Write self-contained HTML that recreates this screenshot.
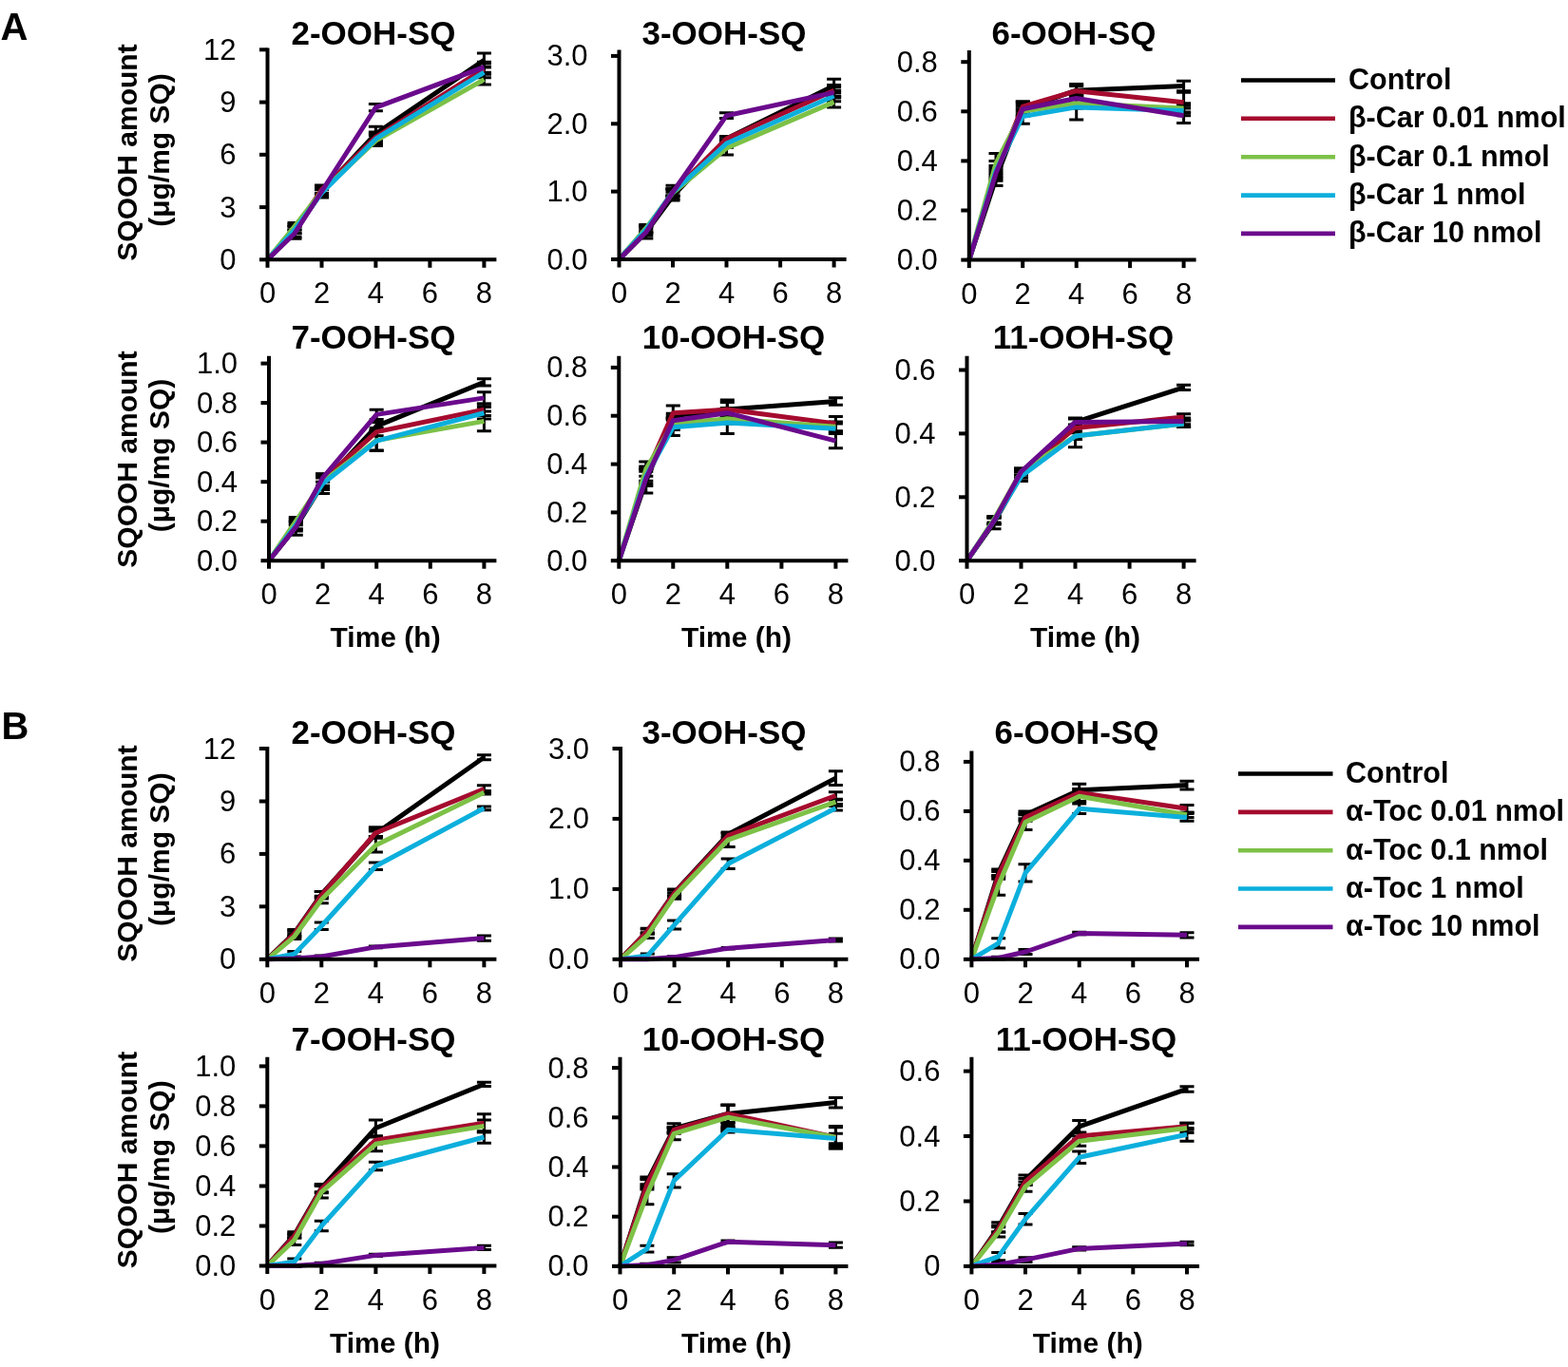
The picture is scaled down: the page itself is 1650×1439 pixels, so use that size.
<!DOCTYPE html>
<html><head><meta charset="utf-8"><title>SQOOH</title>
<style>html,body{margin:0;padding:0;background:#fff;}svg{display:block;}</style></head>
<body><svg width="1650" height="1439" viewBox="0 0 1650 1439" font-family='"Liberation Sans", Arial, Helvetica, sans-serif' fill="#000">
<rect width="1650" height="1439" fill="#fff"/>
<path d="M310.0 251.2V236.5M302.5 251.2H317.5M302.5 236.5H317.5" stroke="#000" stroke-width="3" fill="none"/>
<path d="M338.5 207.9V195.0M331.0 207.9H346.0M331.0 195.0H346.0" stroke="#000" stroke-width="3" fill="none"/>
<path d="M395.4 148.1V133.3M387.9 148.1H402.9M387.9 133.3H402.9" stroke="#000" stroke-width="3" fill="none"/>
<path d="M509.4 70.7V56.0M501.9 70.7H516.9M501.9 56.0H516.9" stroke="#000" stroke-width="3" fill="none"/>
<path d="M310.0 245.7V238.3M302.5 245.7H317.5M302.5 238.3H317.5" stroke="#000" stroke-width="3" fill="none"/>
<path d="M338.5 203.3V195.9M331.0 203.3H346.0M331.0 195.9H346.0" stroke="#000" stroke-width="3" fill="none"/>
<path d="M395.4 149.9V138.9M387.9 149.9H402.9M387.9 138.9H402.9" stroke="#000" stroke-width="3" fill="none"/>
<path d="M509.4 78.1V67.0M501.9 78.1H516.9M501.9 67.0H516.9" stroke="#000" stroke-width="3" fill="none"/>
<path d="M310.0 242.0V234.6M302.5 242.0H317.5M302.5 234.6H317.5" stroke="#000" stroke-width="3" fill="none"/>
<path d="M338.5 205.2V197.8M331.0 205.2H346.0M331.0 197.8H346.0" stroke="#000" stroke-width="3" fill="none"/>
<path d="M395.4 153.6V142.5M387.9 153.6H402.9M387.9 142.5H402.9" stroke="#000" stroke-width="3" fill="none"/>
<path d="M509.4 89.1V78.1M501.9 89.1H516.9M501.9 78.1H516.9" stroke="#000" stroke-width="3" fill="none"/>
<path d="M310.0 245.7V238.3M302.5 245.7H317.5M302.5 238.3H317.5" stroke="#000" stroke-width="3" fill="none"/>
<path d="M338.5 207.0V199.6M331.0 207.0H346.0M331.0 199.6H346.0" stroke="#000" stroke-width="3" fill="none"/>
<path d="M395.4 151.8V140.7M387.9 151.8H402.9M387.9 140.7H402.9" stroke="#000" stroke-width="3" fill="none"/>
<path d="M509.4 81.8V70.7M501.9 81.8H516.9M501.9 70.7H516.9" stroke="#000" stroke-width="3" fill="none"/>
<path d="M310.0 249.4V242.0M302.5 249.4H317.5M302.5 242.0H317.5" stroke="#000" stroke-width="3" fill="none"/>
<path d="M338.5 205.2V197.8M331.0 205.2H346.0M331.0 197.8H346.0" stroke="#000" stroke-width="3" fill="none"/>
<path d="M395.4 116.8V109.4M387.9 116.8H402.9M387.9 109.4H402.9" stroke="#000" stroke-width="3" fill="none"/>
<path d="M509.4 76.2V65.2M501.9 76.2H516.9M501.9 65.2H516.9" stroke="#000" stroke-width="3" fill="none"/>
<polyline points="281.5,273.3 310.0,243.8 338.5,201.5 395.4,140.7 509.4,63.3" stroke="#000000" stroke-width="5" fill="none" stroke-linejoin="round"/>
<polyline points="281.5,273.3 310.0,242.0 338.5,199.6 395.4,144.4 509.4,72.6" stroke="#A50B2E" stroke-width="5" fill="none" stroke-linejoin="round"/>
<polyline points="281.5,273.3 310.0,238.3 338.5,201.5 395.4,148.1 509.4,83.6" stroke="#7DC147" stroke-width="5" fill="none" stroke-linejoin="round"/>
<polyline points="281.5,273.3 310.0,242.0 338.5,203.3 395.4,146.2 509.4,76.2" stroke="#0CAFDC" stroke-width="5" fill="none" stroke-linejoin="round"/>
<polyline points="281.5,273.3 310.0,245.7 338.5,201.5 395.4,113.1 509.4,70.7" stroke="#6A0A8C" stroke-width="5" fill="none" stroke-linejoin="round"/>
<path d="M281.5 50.5V275.3M279.5 273.3H522.4" stroke="#000" stroke-width="4" fill="none"/>
<path d="M273.0 273.3H281.5" stroke="#000" stroke-width="4"/>
<text x="248.5" y="283.8" text-anchor="end" font-size="31">0</text>
<path d="M273.0 218.1H281.5" stroke="#000" stroke-width="4"/>
<text x="248.5" y="228.6" text-anchor="end" font-size="31">3</text>
<path d="M273.0 162.8H281.5" stroke="#000" stroke-width="4"/>
<text x="248.5" y="173.3" text-anchor="end" font-size="31">6</text>
<path d="M273.0 107.6H281.5" stroke="#000" stroke-width="4"/>
<text x="248.5" y="118.1" text-anchor="end" font-size="31">9</text>
<path d="M273.0 52.3H281.5" stroke="#000" stroke-width="4"/>
<text x="248.5" y="62.8" text-anchor="end" font-size="31">12</text>
<path d="M281.5 273.3V281.8" stroke="#000" stroke-width="4"/>
<text x="281.5" y="319.3" text-anchor="middle" font-size="31">0</text>
<path d="M338.5 273.3V281.8" stroke="#000" stroke-width="4"/>
<text x="338.5" y="319.3" text-anchor="middle" font-size="31">2</text>
<path d="M395.4 273.3V281.8" stroke="#000" stroke-width="4"/>
<text x="395.4" y="319.3" text-anchor="middle" font-size="31">4</text>
<path d="M452.4 273.3V281.8" stroke="#000" stroke-width="4"/>
<text x="452.4" y="319.3" text-anchor="middle" font-size="31">6</text>
<path d="M509.4 273.3V281.8" stroke="#000" stroke-width="4"/>
<text x="509.4" y="319.3" text-anchor="middle" font-size="31">8</text>
<text x="393" y="47" text-anchor="middle" font-size="35" font-weight="bold">2-OOH-SQ</text>
<path d="M679.8 250.9V238.0M672.3 250.9H687.3M672.3 238.0H687.3" stroke="#000" stroke-width="3" fill="none"/>
<path d="M708.0 210.9V202.3M700.5 210.9H715.5M700.5 202.3H715.5" stroke="#000" stroke-width="3" fill="none"/>
<path d="M764.5 148.1V143.8M757.0 148.1H772.0M757.0 143.8H772.0" stroke="#000" stroke-width="3" fill="none"/>
<path d="M877.6 97.4V83.2M870.1 97.4H885.1M870.1 83.2H885.1" stroke="#000" stroke-width="3" fill="none"/>
<path d="M679.8 245.2V238.0M672.3 245.2H687.3M672.3 238.0H687.3" stroke="#000" stroke-width="3" fill="none"/>
<path d="M708.0 209.5V195.2M700.5 209.5H715.5M700.5 195.2H715.5" stroke="#000" stroke-width="3" fill="none"/>
<path d="M764.5 148.1V143.8M757.0 148.1H772.0M757.0 143.8H772.0" stroke="#000" stroke-width="3" fill="none"/>
<path d="M877.6 101.0V89.6M870.1 101.0H885.1M870.1 89.6H885.1" stroke="#000" stroke-width="3" fill="none"/>
<path d="M679.8 243.7V236.6M672.3 243.7H687.3M672.3 236.6H687.3" stroke="#000" stroke-width="3" fill="none"/>
<path d="M708.0 206.6V199.5M700.5 206.6H715.5M700.5 199.5H715.5" stroke="#000" stroke-width="3" fill="none"/>
<path d="M764.5 163.1V148.8M757.0 163.1H772.0M757.0 148.8H772.0" stroke="#000" stroke-width="3" fill="none"/>
<path d="M877.6 113.1V101.7M870.1 113.1H885.1M870.1 101.7H885.1" stroke="#000" stroke-width="3" fill="none"/>
<path d="M679.8 245.2V238.0M672.3 245.2H687.3M672.3 238.0H687.3" stroke="#000" stroke-width="3" fill="none"/>
<path d="M708.0 205.9V198.8M700.5 205.9H715.5M700.5 198.8H715.5" stroke="#000" stroke-width="3" fill="none"/>
<path d="M764.5 155.2V146.7M757.0 155.2H772.0M757.0 146.7H772.0" stroke="#000" stroke-width="3" fill="none"/>
<path d="M877.6 106.7V95.3M870.1 106.7H885.1M870.1 95.3H885.1" stroke="#000" stroke-width="3" fill="none"/>
<path d="M679.8 248.0V240.9M672.3 248.0H687.3M672.3 240.9H687.3" stroke="#000" stroke-width="3" fill="none"/>
<path d="M708.0 205.9V198.8M700.5 205.9H715.5M700.5 198.8H715.5" stroke="#000" stroke-width="3" fill="none"/>
<path d="M764.5 124.6V118.8M757.0 124.6H772.0M757.0 118.8H772.0" stroke="#000" stroke-width="3" fill="none"/>
<path d="M877.6 103.1V91.7M870.1 103.1H885.1M870.1 91.7H885.1" stroke="#000" stroke-width="3" fill="none"/>
<polyline points="651.5,273.0 679.8,244.5 708.0,206.6 764.5,146.0 877.6,90.3" stroke="#000000" stroke-width="5" fill="none" stroke-linejoin="round"/>
<polyline points="651.5,273.0 679.8,241.6 708.0,202.3 764.5,146.0 877.6,95.3" stroke="#A50B2E" stroke-width="5" fill="none" stroke-linejoin="round"/>
<polyline points="651.5,273.0 679.8,240.2 708.0,203.1 764.5,156.0 877.6,107.4" stroke="#7DC147" stroke-width="5" fill="none" stroke-linejoin="round"/>
<polyline points="651.5,273.0 679.8,241.6 708.0,202.3 764.5,151.0 877.6,101.0" stroke="#0CAFDC" stroke-width="5" fill="none" stroke-linejoin="round"/>
<polyline points="651.5,273.0 679.8,244.5 708.0,202.3 764.5,121.7 877.6,97.4" stroke="#6A0A8C" stroke-width="5" fill="none" stroke-linejoin="round"/>
<path d="M651.5 52.5V275.0M649.5 273.0H890.6" stroke="#000" stroke-width="4" fill="none"/>
<path d="M643.0 273.0H651.5" stroke="#000" stroke-width="4"/>
<text x="618.5" y="283.5" text-anchor="end" font-size="31">0.0</text>
<path d="M643.0 201.6H651.5" stroke="#000" stroke-width="4"/>
<text x="618.5" y="212.1" text-anchor="end" font-size="31">1.0</text>
<path d="M643.0 130.3H651.5" stroke="#000" stroke-width="4"/>
<text x="618.5" y="140.8" text-anchor="end" font-size="31">2.0</text>
<path d="M643.0 58.9H651.5" stroke="#000" stroke-width="4"/>
<text x="618.5" y="69.4" text-anchor="end" font-size="31">3.0</text>
<path d="M651.5 273.0V281.5" stroke="#000" stroke-width="4"/>
<text x="651.5" y="319.0" text-anchor="middle" font-size="31">0</text>
<path d="M708.0 273.0V281.5" stroke="#000" stroke-width="4"/>
<text x="708.0" y="319.0" text-anchor="middle" font-size="31">2</text>
<path d="M764.5 273.0V281.5" stroke="#000" stroke-width="4"/>
<text x="764.5" y="319.0" text-anchor="middle" font-size="31">4</text>
<path d="M821.1 273.0V281.5" stroke="#000" stroke-width="4"/>
<text x="821.1" y="319.0" text-anchor="middle" font-size="31">6</text>
<path d="M877.6 273.0V281.5" stroke="#000" stroke-width="4"/>
<text x="877.6" y="319.0" text-anchor="middle" font-size="31">8</text>
<text x="762" y="47" text-anchor="middle" font-size="35" font-weight="bold">3-OOH-SQ</text>
<path d="M1048.0 195.5V179.8M1040.5 195.5H1055.5M1040.5 179.8H1055.5" stroke="#000" stroke-width="3" fill="none"/>
<path d="M1076.2 122.5V106.9M1068.8 122.5H1083.8M1068.8 106.9H1083.8" stroke="#000" stroke-width="3" fill="none"/>
<path d="M1132.7 101.7V88.6M1125.2 101.7H1140.2M1125.2 88.6H1140.2" stroke="#000" stroke-width="3" fill="none"/>
<path d="M1245.6 95.7V85.3M1238.1 95.7H1253.1M1238.1 85.3H1253.1" stroke="#000" stroke-width="3" fill="none"/>
<path d="M1048.0 190.2V169.4M1040.5 190.2H1055.5M1040.5 169.4H1055.5" stroke="#000" stroke-width="3" fill="none"/>
<path d="M1076.2 117.3V106.9M1068.8 117.3H1083.8M1068.8 106.9H1083.8" stroke="#000" stroke-width="3" fill="none"/>
<path d="M1132.7 100.9V90.5M1125.2 100.9H1140.2M1125.2 90.5H1140.2" stroke="#000" stroke-width="3" fill="none"/>
<path d="M1245.6 118.1V97.2M1238.1 118.1H1253.1M1238.1 97.2H1253.1" stroke="#000" stroke-width="3" fill="none"/>
<path d="M1048.0 182.4V161.6M1040.5 182.4H1055.5M1040.5 161.6H1055.5" stroke="#000" stroke-width="3" fill="none"/>
<path d="M1076.2 122.5V112.1M1068.8 122.5H1083.8M1068.8 112.1H1083.8" stroke="#000" stroke-width="3" fill="none"/>
<path d="M1132.7 113.9V103.5M1125.2 113.9H1140.2M1125.2 103.5H1140.2" stroke="#000" stroke-width="3" fill="none"/>
<path d="M1245.6 119.1V108.7M1238.1 119.1H1253.1M1238.1 108.7H1253.1" stroke="#000" stroke-width="3" fill="none"/>
<path d="M1048.0 185.0V174.6M1040.5 185.0H1055.5M1040.5 174.6H1055.5" stroke="#000" stroke-width="3" fill="none"/>
<path d="M1076.2 130.3V114.7M1068.8 130.3H1083.8M1068.8 114.7H1083.8" stroke="#000" stroke-width="3" fill="none"/>
<path d="M1132.7 125.9V99.8M1125.2 125.9H1140.2M1125.2 99.8H1140.2" stroke="#000" stroke-width="3" fill="none"/>
<path d="M1245.6 121.7V111.3M1238.1 121.7H1253.1M1238.1 111.3H1253.1" stroke="#000" stroke-width="3" fill="none"/>
<path d="M1048.0 187.6V177.2M1040.5 187.6H1055.5M1040.5 177.2H1055.5" stroke="#000" stroke-width="3" fill="none"/>
<path d="M1076.2 119.9V109.5M1068.8 119.9H1083.8M1068.8 109.5H1083.8" stroke="#000" stroke-width="3" fill="none"/>
<path d="M1132.7 108.7V98.3M1125.2 108.7H1140.2M1125.2 98.3H1140.2" stroke="#000" stroke-width="3" fill="none"/>
<path d="M1245.6 129.5V113.9M1238.1 129.5H1253.1M1238.1 113.9H1253.1" stroke="#000" stroke-width="3" fill="none"/>
<polyline points="1019.8,273.6 1048.0,187.6 1076.2,114.7 1132.7,95.2 1245.6,90.5" stroke="#000000" stroke-width="5" fill="none" stroke-linejoin="round"/>
<polyline points="1019.8,273.6 1048.0,179.8 1076.2,112.1 1132.7,95.7 1245.6,107.7" stroke="#A50B2E" stroke-width="5" fill="none" stroke-linejoin="round"/>
<polyline points="1019.8,273.6 1048.0,172.0 1076.2,117.3 1132.7,108.7 1245.6,113.9" stroke="#7DC147" stroke-width="5" fill="none" stroke-linejoin="round"/>
<polyline points="1019.8,273.6 1048.0,179.8 1076.2,122.5 1132.7,112.9 1245.6,116.5" stroke="#0CAFDC" stroke-width="5" fill="none" stroke-linejoin="round"/>
<polyline points="1019.8,273.6 1048.0,182.4 1076.2,114.7 1132.7,103.5 1245.6,121.7" stroke="#6A0A8C" stroke-width="5" fill="none" stroke-linejoin="round"/>
<path d="M1019.8 53.0V275.6M1017.8 273.6H1258.6" stroke="#000" stroke-width="4" fill="none"/>
<path d="M1011.3 273.6H1019.8" stroke="#000" stroke-width="4"/>
<text x="986.8" y="284.1" text-anchor="end" font-size="31">0.0</text>
<path d="M1011.3 221.5H1019.8" stroke="#000" stroke-width="4"/>
<text x="986.8" y="232.0" text-anchor="end" font-size="31">0.2</text>
<path d="M1011.3 169.4H1019.8" stroke="#000" stroke-width="4"/>
<text x="986.8" y="179.9" text-anchor="end" font-size="31">0.4</text>
<path d="M1011.3 117.3H1019.8" stroke="#000" stroke-width="4"/>
<text x="986.8" y="127.8" text-anchor="end" font-size="31">0.6</text>
<path d="M1011.3 65.2H1019.8" stroke="#000" stroke-width="4"/>
<text x="986.8" y="75.7" text-anchor="end" font-size="31">0.8</text>
<path d="M1019.8 273.6V282.1" stroke="#000" stroke-width="4"/>
<text x="1019.8" y="319.6" text-anchor="middle" font-size="31">0</text>
<path d="M1076.2 273.6V282.1" stroke="#000" stroke-width="4"/>
<text x="1076.2" y="319.6" text-anchor="middle" font-size="31">2</text>
<path d="M1132.7 273.6V282.1" stroke="#000" stroke-width="4"/>
<text x="1132.7" y="319.6" text-anchor="middle" font-size="31">4</text>
<path d="M1189.1 273.6V282.1" stroke="#000" stroke-width="4"/>
<text x="1189.1" y="319.6" text-anchor="middle" font-size="31">6</text>
<path d="M1245.6 273.6V282.1" stroke="#000" stroke-width="4"/>
<text x="1245.6" y="319.6" text-anchor="middle" font-size="31">8</text>
<text x="1130" y="47" text-anchor="middle" font-size="35" font-weight="bold">6-OOH-SQ</text>
<path d="M311.3 563.2V546.6M303.8 563.2H318.8M303.8 546.6H318.8" stroke="#000" stroke-width="3" fill="none"/>
<path d="M339.6 519.6V498.9M332.1 519.6H347.1M332.1 498.9H347.1" stroke="#000" stroke-width="3" fill="none"/>
<path d="M396.2 452.8V444.5M388.7 452.8H403.7M388.7 444.5H403.7" stroke="#000" stroke-width="3" fill="none"/>
<path d="M509.4 405.9V398.8M501.9 405.9H516.9M501.9 398.8H516.9" stroke="#000" stroke-width="3" fill="none"/>
<path d="M311.3 557.0V548.7M303.8 557.0H318.8M303.8 548.7H318.8" stroke="#000" stroke-width="3" fill="none"/>
<path d="M339.6 511.3V498.9M332.1 511.3H347.1M332.1 498.9H347.1" stroke="#000" stroke-width="3" fill="none"/>
<path d="M396.2 458.8V450.5M388.7 458.8H403.7M388.7 450.5H403.7" stroke="#000" stroke-width="3" fill="none"/>
<path d="M509.4 437.4V425.0M501.9 437.4H516.9M501.9 425.0H516.9" stroke="#000" stroke-width="3" fill="none"/>
<path d="M311.3 552.8V544.5M303.8 552.8H318.8M303.8 544.5H318.8" stroke="#000" stroke-width="3" fill="none"/>
<path d="M339.6 513.4V500.9M332.1 513.4H347.1M332.1 500.9H347.1" stroke="#000" stroke-width="3" fill="none"/>
<path d="M396.2 473.9V453.2M388.7 473.9H403.7M388.7 453.2H403.7" stroke="#000" stroke-width="3" fill="none"/>
<path d="M509.4 453.8V433.0M501.9 453.8H516.9M501.9 433.0H516.9" stroke="#000" stroke-width="3" fill="none"/>
<path d="M311.3 557.0V548.7M303.8 557.0H318.8M303.8 548.7H318.8" stroke="#000" stroke-width="3" fill="none"/>
<path d="M339.6 515.5V503.0M332.1 515.5H347.1M332.1 503.0H347.1" stroke="#000" stroke-width="3" fill="none"/>
<path d="M396.2 474.6V453.8M388.7 474.6H403.7M388.7 453.8H403.7" stroke="#000" stroke-width="3" fill="none"/>
<path d="M509.4 440.9V428.5M501.9 440.9H516.9M501.9 428.5H516.9" stroke="#000" stroke-width="3" fill="none"/>
<path d="M311.3 559.1V550.8M303.8 559.1H318.8M303.8 550.8H318.8" stroke="#000" stroke-width="3" fill="none"/>
<path d="M339.6 507.2V498.9M332.1 507.2H347.1M332.1 498.9H347.1" stroke="#000" stroke-width="3" fill="none"/>
<path d="M396.2 441.6V431.2M388.7 441.6H403.7M388.7 431.2H403.7" stroke="#000" stroke-width="3" fill="none"/>
<path d="M509.4 425.2V412.7M501.9 425.2H516.9M501.9 412.7H516.9" stroke="#000" stroke-width="3" fill="none"/>
<polyline points="283.0,590.2 311.3,554.9 339.6,509.2 396.2,448.6 509.4,402.3" stroke="#000000" stroke-width="5" fill="none" stroke-linejoin="round"/>
<polyline points="283.0,590.2 311.3,552.8 339.6,505.1 396.2,454.6 509.4,431.2" stroke="#A50B2E" stroke-width="5" fill="none" stroke-linejoin="round"/>
<polyline points="283.0,590.2 311.3,548.7 339.6,507.2 396.2,463.6 509.4,443.4" stroke="#7DC147" stroke-width="5" fill="none" stroke-linejoin="round"/>
<polyline points="283.0,590.2 311.3,552.8 339.6,509.2 396.2,464.2 509.4,434.7" stroke="#0CAFDC" stroke-width="5" fill="none" stroke-linejoin="round"/>
<polyline points="283.0,590.2 311.3,554.9 339.6,503.0 396.2,436.4 509.4,418.9" stroke="#6A0A8C" stroke-width="5" fill="none" stroke-linejoin="round"/>
<path d="M283.0 374.8V592.2M281.0 590.2H522.4" stroke="#000" stroke-width="4" fill="none"/>
<path d="M274.5 590.2H283.0" stroke="#000" stroke-width="4"/>
<text x="250.0" y="600.7" text-anchor="end" font-size="31">0.0</text>
<path d="M274.5 548.7H283.0" stroke="#000" stroke-width="4"/>
<text x="250.0" y="559.2" text-anchor="end" font-size="31">0.2</text>
<path d="M274.5 507.2H283.0" stroke="#000" stroke-width="4"/>
<text x="250.0" y="517.7" text-anchor="end" font-size="31">0.4</text>
<path d="M274.5 465.6H283.0" stroke="#000" stroke-width="4"/>
<text x="250.0" y="476.1" text-anchor="end" font-size="31">0.6</text>
<path d="M274.5 424.1H283.0" stroke="#000" stroke-width="4"/>
<text x="250.0" y="434.6" text-anchor="end" font-size="31">0.8</text>
<path d="M274.5 382.6H283.0" stroke="#000" stroke-width="4"/>
<text x="250.0" y="393.1" text-anchor="end" font-size="31">1.0</text>
<path d="M283.0 590.2V598.7" stroke="#000" stroke-width="4"/>
<text x="283.0" y="636.2" text-anchor="middle" font-size="31">0</text>
<path d="M339.6 590.2V598.7" stroke="#000" stroke-width="4"/>
<text x="339.6" y="636.2" text-anchor="middle" font-size="31">2</text>
<path d="M396.2 590.2V598.7" stroke="#000" stroke-width="4"/>
<text x="396.2" y="636.2" text-anchor="middle" font-size="31">4</text>
<path d="M452.8 590.2V598.7" stroke="#000" stroke-width="4"/>
<text x="452.8" y="636.2" text-anchor="middle" font-size="31">6</text>
<path d="M509.4 590.2V598.7" stroke="#000" stroke-width="4"/>
<text x="509.4" y="636.2" text-anchor="middle" font-size="31">8</text>
<text x="393" y="367" text-anchor="middle" font-size="35" font-weight="bold">7-OOH-SQ</text>
<path d="M679.8 519.0V493.6M672.3 519.0H687.3M672.3 493.6H687.3" stroke="#000" stroke-width="3" fill="none"/>
<path d="M708.3 440.3V435.2M700.8 440.3H715.8M700.8 435.2H715.8" stroke="#000" stroke-width="3" fill="none"/>
<path d="M765.3 441.3V421.0M757.8 441.3H772.8M757.8 421.0H772.8" stroke="#000" stroke-width="3" fill="none"/>
<path d="M879.4 426.3V418.7M871.9 426.3H886.9M871.9 418.7H886.9" stroke="#000" stroke-width="3" fill="none"/>
<path d="M679.8 506.3V491.1M672.3 506.3H687.3M672.3 491.1H687.3" stroke="#000" stroke-width="3" fill="none"/>
<path d="M708.3 442.3V427.1M700.8 442.3H715.8M700.8 427.1H715.8" stroke="#000" stroke-width="3" fill="none"/>
<path d="M765.3 438.7V423.5M757.8 438.7H772.8M757.8 423.5H772.8" stroke="#000" stroke-width="3" fill="none"/>
<path d="M879.4 453.7V438.5M871.9 453.7H886.9M871.9 438.5H886.9" stroke="#000" stroke-width="3" fill="none"/>
<path d="M679.8 501.3V486.0M672.3 501.3H687.3M672.3 486.0H687.3" stroke="#000" stroke-width="3" fill="none"/>
<path d="M708.3 452.5V439.8M700.8 452.5H715.8M700.8 439.8H715.8" stroke="#000" stroke-width="3" fill="none"/>
<path d="M765.3 445.9V435.7M757.8 445.9H772.8M757.8 435.7H772.8" stroke="#000" stroke-width="3" fill="none"/>
<path d="M879.4 454.2V444.1M871.9 454.2H886.9M871.9 444.1H886.9" stroke="#000" stroke-width="3" fill="none"/>
<path d="M679.8 508.9V493.6M672.3 508.9H687.3M672.3 493.6H687.3" stroke="#000" stroke-width="3" fill="none"/>
<path d="M708.3 458.6V440.8M700.8 458.6H715.8M700.8 440.8H715.8" stroke="#000" stroke-width="3" fill="none"/>
<path d="M765.3 456.5V433.7M757.8 456.5H772.8M757.8 433.7H772.8" stroke="#000" stroke-width="3" fill="none"/>
<path d="M879.4 456.3V446.1M871.9 456.3H886.9M871.9 446.1H886.9" stroke="#000" stroke-width="3" fill="none"/>
<path d="M679.8 511.4V496.2M672.3 511.4H687.3M672.3 496.2H687.3" stroke="#000" stroke-width="3" fill="none"/>
<path d="M708.3 447.9V437.7M700.8 447.9H715.8M700.8 437.7H715.8" stroke="#000" stroke-width="3" fill="none"/>
<path d="M765.3 439.8V429.6M757.8 439.8H772.8M757.8 429.6H772.8" stroke="#000" stroke-width="3" fill="none"/>
<path d="M879.4 471.8V456.5M871.9 471.8H886.9M871.9 456.5H886.9" stroke="#000" stroke-width="3" fill="none"/>
<polyline points="651.3,590.2 679.8,506.3 708.3,437.7 765.3,431.1 879.4,422.5" stroke="#000000" stroke-width="5" fill="none" stroke-linejoin="round"/>
<polyline points="651.3,590.2 679.8,498.7 708.3,434.7 765.3,431.1 879.4,446.1" stroke="#A50B2E" stroke-width="5" fill="none" stroke-linejoin="round"/>
<polyline points="651.3,590.2 679.8,493.6 708.3,446.1 765.3,440.8 879.4,449.2" stroke="#7DC147" stroke-width="5" fill="none" stroke-linejoin="round"/>
<polyline points="651.3,590.2 679.8,501.3 708.3,449.7 765.3,445.1 879.4,451.2" stroke="#0CAFDC" stroke-width="5" fill="none" stroke-linejoin="round"/>
<polyline points="651.3,590.2 679.8,503.8 708.3,442.8 765.3,434.7 879.4,464.2" stroke="#6A0A8C" stroke-width="5" fill="none" stroke-linejoin="round"/>
<path d="M651.3 374.8V592.2M649.3 590.2H892.4" stroke="#000" stroke-width="4" fill="none"/>
<path d="M642.8 590.2H651.3" stroke="#000" stroke-width="4"/>
<text x="618.3" y="600.7" text-anchor="end" font-size="31">0.0</text>
<path d="M642.8 539.4H651.3" stroke="#000" stroke-width="4"/>
<text x="618.3" y="549.9" text-anchor="end" font-size="31">0.2</text>
<path d="M642.8 488.6H651.3" stroke="#000" stroke-width="4"/>
<text x="618.3" y="499.1" text-anchor="end" font-size="31">0.4</text>
<path d="M642.8 437.7H651.3" stroke="#000" stroke-width="4"/>
<text x="618.3" y="448.2" text-anchor="end" font-size="31">0.6</text>
<path d="M642.8 386.9H651.3" stroke="#000" stroke-width="4"/>
<text x="618.3" y="397.4" text-anchor="end" font-size="31">0.8</text>
<path d="M651.3 590.2V598.7" stroke="#000" stroke-width="4"/>
<text x="651.3" y="636.2" text-anchor="middle" font-size="31">0</text>
<path d="M708.3 590.2V598.7" stroke="#000" stroke-width="4"/>
<text x="708.3" y="636.2" text-anchor="middle" font-size="31">2</text>
<path d="M765.3 590.2V598.7" stroke="#000" stroke-width="4"/>
<text x="765.3" y="636.2" text-anchor="middle" font-size="31">4</text>
<path d="M822.4 590.2V598.7" stroke="#000" stroke-width="4"/>
<text x="822.4" y="636.2" text-anchor="middle" font-size="31">6</text>
<path d="M879.4 590.2V598.7" stroke="#000" stroke-width="4"/>
<text x="879.4" y="636.2" text-anchor="middle" font-size="31">8</text>
<text x="772" y="367" text-anchor="middle" font-size="35" font-weight="bold">10-OOH-SQ</text>
<path d="M1046.0 556.8V543.4M1038.5 556.8H1053.5M1038.5 543.4H1053.5" stroke="#000" stroke-width="3" fill="none"/>
<path d="M1074.5 506.6V493.2M1067.0 506.6H1082.0M1067.0 493.2H1082.0" stroke="#000" stroke-width="3" fill="none"/>
<path d="M1131.5 448.7V440.0M1124.0 448.7H1139.0M1124.0 440.0H1139.0" stroke="#000" stroke-width="3" fill="none"/>
<path d="M1245.6 410.6V405.2M1238.1 410.6H1253.1M1238.1 405.2H1253.1" stroke="#000" stroke-width="3" fill="none"/>
<path d="M1046.0 551.7V545.0M1038.5 551.7H1053.5M1038.5 545.0H1053.5" stroke="#000" stroke-width="3" fill="none"/>
<path d="M1074.5 503.2V493.2M1067.0 503.2H1082.0M1067.0 493.2H1082.0" stroke="#000" stroke-width="3" fill="none"/>
<path d="M1131.5 453.7V447.0M1124.0 453.7H1139.0M1124.0 447.0H1139.0" stroke="#000" stroke-width="3" fill="none"/>
<path d="M1245.6 442.4V435.7M1238.1 442.4H1253.1M1238.1 435.7H1253.1" stroke="#000" stroke-width="3" fill="none"/>
<path d="M1046.0 550.1V543.4M1038.5 550.1H1053.5M1038.5 543.4H1053.5" stroke="#000" stroke-width="3" fill="none"/>
<path d="M1074.5 499.9V493.2M1067.0 499.9H1082.0M1067.0 493.2H1082.0" stroke="#000" stroke-width="3" fill="none"/>
<path d="M1131.5 462.4V455.7M1124.0 462.4H1139.0M1124.0 455.7H1139.0" stroke="#000" stroke-width="3" fill="none"/>
<path d="M1245.6 449.4V442.7M1238.1 449.4H1253.1M1238.1 442.7H1253.1" stroke="#000" stroke-width="3" fill="none"/>
<path d="M1046.0 551.7V545.0M1038.5 551.7H1053.5M1038.5 545.0H1053.5" stroke="#000" stroke-width="3" fill="none"/>
<path d="M1074.5 506.6V496.5M1067.0 506.6H1082.0M1067.0 496.5H1082.0" stroke="#000" stroke-width="3" fill="none"/>
<path d="M1131.5 470.8V447.4M1124.0 470.8H1139.0M1124.0 447.4H1139.0" stroke="#000" stroke-width="3" fill="none"/>
<path d="M1245.6 449.4V442.7M1238.1 449.4H1253.1M1238.1 442.7H1253.1" stroke="#000" stroke-width="3" fill="none"/>
<path d="M1046.0 551.7V545.0M1038.5 551.7H1053.5M1038.5 545.0H1053.5" stroke="#000" stroke-width="3" fill="none"/>
<path d="M1074.5 499.9V493.2M1067.0 499.9H1082.0M1067.0 493.2H1082.0" stroke="#000" stroke-width="3" fill="none"/>
<path d="M1131.5 447.7V441.0M1124.0 447.7H1139.0M1124.0 441.0H1139.0" stroke="#000" stroke-width="3" fill="none"/>
<path d="M1245.6 446.7V440.0M1238.1 446.7H1253.1M1238.1 440.0H1253.1" stroke="#000" stroke-width="3" fill="none"/>
<polyline points="1017.5,590.2 1046.0,550.1 1074.5,499.9 1131.5,444.4 1245.6,407.9" stroke="#000000" stroke-width="5" fill="none" stroke-linejoin="round"/>
<polyline points="1017.5,590.2 1046.0,548.4 1074.5,498.2 1131.5,450.4 1245.6,439.0" stroke="#A50B2E" stroke-width="5" fill="none" stroke-linejoin="round"/>
<polyline points="1017.5,590.2 1046.0,546.7 1074.5,496.5 1131.5,459.1 1245.6,446.0" stroke="#7DC147" stroke-width="5" fill="none" stroke-linejoin="round"/>
<polyline points="1017.5,590.2 1046.0,548.4 1074.5,501.6 1131.5,459.1 1245.6,446.0" stroke="#0CAFDC" stroke-width="5" fill="none" stroke-linejoin="round"/>
<polyline points="1017.5,590.2 1046.0,548.4 1074.5,496.5 1131.5,444.4 1245.6,443.4" stroke="#6A0A8C" stroke-width="5" fill="none" stroke-linejoin="round"/>
<path d="M1017.5 374.8V592.2M1015.5 590.2H1258.6" stroke="#000" stroke-width="4" fill="none"/>
<path d="M1009.0 590.2H1017.5" stroke="#000" stroke-width="4"/>
<text x="984.5" y="600.7" text-anchor="end" font-size="31">0.0</text>
<path d="M1009.0 523.3H1017.5" stroke="#000" stroke-width="4"/>
<text x="984.5" y="533.8" text-anchor="end" font-size="31">0.2</text>
<path d="M1009.0 456.4H1017.5" stroke="#000" stroke-width="4"/>
<text x="984.5" y="466.9" text-anchor="end" font-size="31">0.4</text>
<path d="M1009.0 389.5H1017.5" stroke="#000" stroke-width="4"/>
<text x="984.5" y="400.0" text-anchor="end" font-size="31">0.6</text>
<path d="M1017.5 590.2V598.7" stroke="#000" stroke-width="4"/>
<text x="1017.5" y="636.2" text-anchor="middle" font-size="31">0</text>
<path d="M1074.5 590.2V598.7" stroke="#000" stroke-width="4"/>
<text x="1074.5" y="636.2" text-anchor="middle" font-size="31">2</text>
<path d="M1131.5 590.2V598.7" stroke="#000" stroke-width="4"/>
<text x="1131.5" y="636.2" text-anchor="middle" font-size="31">4</text>
<path d="M1188.6 590.2V598.7" stroke="#000" stroke-width="4"/>
<text x="1188.6" y="636.2" text-anchor="middle" font-size="31">6</text>
<path d="M1245.6 590.2V598.7" stroke="#000" stroke-width="4"/>
<text x="1245.6" y="636.2" text-anchor="middle" font-size="31">8</text>
<text x="1140" y="367" text-anchor="middle" font-size="35" font-weight="bold">11-OOH-SQ</text>
<path d="M309.8 985.8V978.4M302.3 985.8H317.3M302.3 978.4H317.3" stroke="#000" stroke-width="3" fill="none"/>
<path d="M338.3 944.2V938.6M330.8 944.2H345.8M330.8 938.6H345.8" stroke="#000" stroke-width="3" fill="none"/>
<path d="M395.4 880.4V874.9M387.9 880.4H402.9M387.9 874.9H402.9" stroke="#000" stroke-width="3" fill="none"/>
<path d="M509.4 799.8V794.7M501.9 799.8H516.9M501.9 794.7H516.9" stroke="#000" stroke-width="3" fill="none"/>
<path d="M309.8 985.8V980.2M302.3 985.8H317.3M302.3 980.2H317.3" stroke="#000" stroke-width="3" fill="none"/>
<path d="M338.3 946.0V938.6M330.8 946.0H345.8M330.8 938.6H345.8" stroke="#000" stroke-width="3" fill="none"/>
<path d="M395.4 880.4V873.0M387.9 880.4H402.9M387.9 873.0H402.9" stroke="#000" stroke-width="3" fill="none"/>
<path d="M509.4 834.2V826.8M501.9 834.2H516.9M501.9 826.8H516.9" stroke="#000" stroke-width="3" fill="none"/>
<path d="M309.8 988.5V983.0M302.3 988.5H317.3M302.3 983.0H317.3" stroke="#000" stroke-width="3" fill="none"/>
<path d="M338.3 950.7V943.3M330.8 950.7H345.8M330.8 943.3H345.8" stroke="#000" stroke-width="3" fill="none"/>
<path d="M395.4 897.1V882.3M387.9 897.1H402.9M387.9 882.3H402.9" stroke="#000" stroke-width="3" fill="none"/>
<path d="M509.4 836.1V832.4M501.9 836.1H516.9M501.9 832.4H516.9" stroke="#000" stroke-width="3" fill="none"/>
<path d="M309.8 1007.0V1001.5M302.3 1007.0H317.3M302.3 1001.5H317.3" stroke="#000" stroke-width="3" fill="none"/>
<path d="M338.3 978.4V971.0M330.8 978.4H345.8M330.8 971.0H345.8" stroke="#000" stroke-width="3" fill="none"/>
<path d="M395.4 915.5V908.1M387.9 915.5H402.9M387.9 908.1H402.9" stroke="#000" stroke-width="3" fill="none"/>
<path d="M509.4 852.7V849.0M501.9 852.7H516.9M501.9 849.0H516.9" stroke="#000" stroke-width="3" fill="none"/>
<path d="M309.8 1009.8V1008.0M302.3 1009.8H317.3M302.3 1008.0H317.3" stroke="#000" stroke-width="3" fill="none"/>
<path d="M338.3 1008.0V1006.1M330.8 1008.0H345.8M330.8 1006.1H345.8" stroke="#000" stroke-width="3" fill="none"/>
<path d="M395.4 997.8V995.9M387.9 997.8H402.9M387.9 995.9H402.9" stroke="#000" stroke-width="3" fill="none"/>
<path d="M509.4 990.2V985.0M501.9 990.2H516.9M501.9 985.0H516.9" stroke="#000" stroke-width="3" fill="none"/>
<rect x="387.9" y="869.3" width="15" height="3.3" fill="#000"/>
<polyline points="281.3,1009.8 309.8,982.1 338.3,941.4 395.4,877.6 509.4,797.2" stroke="#000000" stroke-width="5" fill="none" stroke-linejoin="round"/>
<polyline points="281.3,1009.8 309.8,983.0 338.3,942.3 395.4,876.7 509.4,830.5" stroke="#A50B2E" stroke-width="5" fill="none" stroke-linejoin="round"/>
<polyline points="281.3,1009.8 309.8,985.8 338.3,947.0 395.4,889.7 509.4,834.2" stroke="#7DC147" stroke-width="5" fill="none" stroke-linejoin="round"/>
<polyline points="281.3,1009.8 309.8,1004.3 338.3,974.7 395.4,911.8 509.4,850.8" stroke="#0CAFDC" stroke-width="5" fill="none" stroke-linejoin="round"/>
<polyline points="281.3,1009.8 309.8,1008.9 338.3,1007.0 395.4,996.9 509.4,987.6" stroke="#6A0A8C" stroke-width="5" fill="none" stroke-linejoin="round"/>
<path d="M281.3 786.0V1011.8M279.3 1009.8H522.4" stroke="#000" stroke-width="4" fill="none"/>
<path d="M272.8 1009.8H281.3" stroke="#000" stroke-width="4"/>
<text x="248.3" y="1020.3" text-anchor="end" font-size="31">0</text>
<path d="M272.8 954.3H281.3" stroke="#000" stroke-width="4"/>
<text x="248.3" y="964.8" text-anchor="end" font-size="31">3</text>
<path d="M272.8 898.9H281.3" stroke="#000" stroke-width="4"/>
<text x="248.3" y="909.4" text-anchor="end" font-size="31">6</text>
<path d="M272.8 843.5H281.3" stroke="#000" stroke-width="4"/>
<text x="248.3" y="854.0" text-anchor="end" font-size="31">9</text>
<path d="M272.8 788.0H281.3" stroke="#000" stroke-width="4"/>
<text x="248.3" y="798.5" text-anchor="end" font-size="31">12</text>
<path d="M281.3 1009.8V1018.3" stroke="#000" stroke-width="4"/>
<text x="281.3" y="1055.8" text-anchor="middle" font-size="31">0</text>
<path d="M338.3 1009.8V1018.3" stroke="#000" stroke-width="4"/>
<text x="338.3" y="1055.8" text-anchor="middle" font-size="31">2</text>
<path d="M395.4 1009.8V1018.3" stroke="#000" stroke-width="4"/>
<text x="395.4" y="1055.8" text-anchor="middle" font-size="31">4</text>
<path d="M452.4 1009.8V1018.3" stroke="#000" stroke-width="4"/>
<text x="452.4" y="1055.8" text-anchor="middle" font-size="31">6</text>
<path d="M509.4 1009.8V1018.3" stroke="#000" stroke-width="4"/>
<text x="509.4" y="1055.8" text-anchor="middle" font-size="31">8</text>
<text x="393" y="783" text-anchor="middle" font-size="35" font-weight="bold">2-OOH-SQ</text>
<path d="M681.3 983.2V977.3M673.8 983.2H688.8M673.8 977.3H688.8" stroke="#000" stroke-width="3" fill="none"/>
<path d="M709.6 943.3V935.9M702.1 943.3H717.1M702.1 935.9H717.1" stroke="#000" stroke-width="3" fill="none"/>
<path d="M766.2 880.4V876.0M758.7 880.4H773.7M758.7 876.0H773.7" stroke="#000" stroke-width="3" fill="none"/>
<path d="M879.4 826.4V811.7M871.9 826.4H886.9M871.9 811.7H886.9" stroke="#000" stroke-width="3" fill="none"/>
<path d="M681.3 982.4V978.0M673.8 982.4H688.8M673.8 978.0H688.8" stroke="#000" stroke-width="3" fill="none"/>
<path d="M709.6 943.3V937.3M702.1 943.3H717.1M702.1 937.3H717.1" stroke="#000" stroke-width="3" fill="none"/>
<path d="M766.2 881.9V877.5M758.7 881.9H773.7M758.7 877.5H773.7" stroke="#000" stroke-width="3" fill="none"/>
<path d="M879.4 841.2V833.8M871.9 841.2H886.9M871.9 833.8H886.9" stroke="#000" stroke-width="3" fill="none"/>
<path d="M681.3 987.6V981.7M673.8 987.6H688.8M673.8 981.7H688.8" stroke="#000" stroke-width="3" fill="none"/>
<path d="M709.6 946.2V940.3M702.1 946.2H717.1M702.1 940.3H717.1" stroke="#000" stroke-width="3" fill="none"/>
<path d="M766.2 891.5V876.7M758.7 891.5H773.7M758.7 876.7H773.7" stroke="#000" stroke-width="3" fill="none"/>
<path d="M879.4 846.4V842.0M871.9 846.4H886.9M871.9 842.0H886.9" stroke="#000" stroke-width="3" fill="none"/>
<path d="M681.3 1008.3V1003.9M673.8 1008.3H688.8M673.8 1003.9H688.8" stroke="#000" stroke-width="3" fill="none"/>
<path d="M709.6 978.0V969.1M702.1 978.0H717.1M702.1 969.1H717.1" stroke="#000" stroke-width="3" fill="none"/>
<path d="M766.2 914.4V904.1M758.7 914.4H773.7M758.7 904.1H773.7" stroke="#000" stroke-width="3" fill="none"/>
<path d="M879.4 853.1V848.6M871.9 853.1H886.9M871.9 848.6H886.9" stroke="#000" stroke-width="3" fill="none"/>
<path d="M681.3 1010.5V1009.1M673.8 1010.5H688.8M673.8 1009.1H688.8" stroke="#000" stroke-width="3" fill="none"/>
<path d="M709.6 1008.3V1006.8M702.1 1008.3H717.1M702.1 1006.8H717.1" stroke="#000" stroke-width="3" fill="none"/>
<path d="M766.2 998.9V997.5M758.7 998.9H773.7M758.7 997.5H773.7" stroke="#000" stroke-width="3" fill="none"/>
<path d="M879.4 990.9V988.0M871.9 990.9H886.9M871.9 988.0H886.9" stroke="#000" stroke-width="3" fill="none"/>
<polyline points="653.0,1009.8 681.3,980.2 709.6,939.6 766.2,878.2 879.4,819.1" stroke="#000000" stroke-width="5" fill="none" stroke-linejoin="round"/>
<polyline points="653.0,1009.8 681.3,980.2 709.6,940.3 766.2,879.7 879.4,837.5" stroke="#A50B2E" stroke-width="5" fill="none" stroke-linejoin="round"/>
<polyline points="653.0,1009.8 681.3,984.7 709.6,943.3 766.2,884.1 879.4,844.2" stroke="#7DC147" stroke-width="5" fill="none" stroke-linejoin="round"/>
<polyline points="653.0,1009.8 681.3,1006.1 709.6,973.6 766.2,909.3 879.4,850.8" stroke="#0CAFDC" stroke-width="5" fill="none" stroke-linejoin="round"/>
<polyline points="653.0,1009.8 681.3,1009.8 709.6,1007.6 766.2,998.2 879.4,989.5" stroke="#6A0A8C" stroke-width="5" fill="none" stroke-linejoin="round"/>
<path d="M653.0 786.0V1011.8M651.0 1009.8H892.4" stroke="#000" stroke-width="4" fill="none"/>
<path d="M644.5 1009.8H653.0" stroke="#000" stroke-width="4"/>
<text x="620.0" y="1020.3" text-anchor="end" font-size="31">0.0</text>
<path d="M644.5 935.9H653.0" stroke="#000" stroke-width="4"/>
<text x="620.0" y="946.4" text-anchor="end" font-size="31">1.0</text>
<path d="M644.5 861.9H653.0" stroke="#000" stroke-width="4"/>
<text x="620.0" y="872.4" text-anchor="end" font-size="31">2.0</text>
<path d="M644.5 788.0H653.0" stroke="#000" stroke-width="4"/>
<text x="620.0" y="798.5" text-anchor="end" font-size="31">3.0</text>
<path d="M653.0 1009.8V1018.3" stroke="#000" stroke-width="4"/>
<text x="653.0" y="1055.8" text-anchor="middle" font-size="31">0</text>
<path d="M709.6 1009.8V1018.3" stroke="#000" stroke-width="4"/>
<text x="709.6" y="1055.8" text-anchor="middle" font-size="31">2</text>
<path d="M766.2 1009.8V1018.3" stroke="#000" stroke-width="4"/>
<text x="766.2" y="1055.8" text-anchor="middle" font-size="31">4</text>
<path d="M822.8 1009.8V1018.3" stroke="#000" stroke-width="4"/>
<text x="822.8" y="1055.8" text-anchor="middle" font-size="31">6</text>
<path d="M879.4 1009.8V1018.3" stroke="#000" stroke-width="4"/>
<text x="879.4" y="1055.8" text-anchor="middle" font-size="31">8</text>
<text x="762" y="783" text-anchor="middle" font-size="35" font-weight="bold">3-OOH-SQ</text>
<path d="M1050.7 922.7V914.9M1043.2 922.7H1058.2M1043.2 914.9H1058.2" stroke="#000" stroke-width="3" fill="none"/>
<path d="M1079.0 861.7V853.9M1071.5 861.7H1086.5M1071.5 853.9H1086.5" stroke="#000" stroke-width="3" fill="none"/>
<path d="M1135.7 838.3V825.3M1128.2 838.3H1143.2M1128.2 825.3H1143.2" stroke="#000" stroke-width="3" fill="none"/>
<path d="M1249.0 831.0V822.2M1241.5 831.0H1256.5M1241.5 822.2H1256.5" stroke="#000" stroke-width="3" fill="none"/>
<path d="M1050.7 925.3V917.5M1043.2 925.3H1058.2M1043.2 917.5H1058.2" stroke="#000" stroke-width="3" fill="none"/>
<path d="M1079.0 864.3V856.5M1071.5 864.3H1086.5M1071.5 856.5H1086.5" stroke="#000" stroke-width="3" fill="none"/>
<path d="M1135.7 838.3V830.5M1128.2 838.3H1143.2M1128.2 830.5H1143.2" stroke="#000" stroke-width="3" fill="none"/>
<path d="M1249.0 855.2V847.4M1241.5 855.2H1256.5M1241.5 847.4H1256.5" stroke="#000" stroke-width="3" fill="none"/>
<path d="M1050.7 942.2V921.4M1043.2 942.2H1058.2M1043.2 921.4H1058.2" stroke="#000" stroke-width="3" fill="none"/>
<path d="M1079.0 873.4V857.8M1071.5 873.4H1086.5M1071.5 857.8H1086.5" stroke="#000" stroke-width="3" fill="none"/>
<path d="M1135.7 843.5V833.1M1128.2 843.5H1143.2M1128.2 833.1H1143.2" stroke="#000" stroke-width="3" fill="none"/>
<path d="M1249.0 860.4V855.2M1241.5 860.4H1256.5M1241.5 855.2H1256.5" stroke="#000" stroke-width="3" fill="none"/>
<path d="M1050.7 998.1V987.7M1043.2 998.1H1058.2M1043.2 987.7H1058.2" stroke="#000" stroke-width="3" fill="none"/>
<path d="M1079.0 927.9V909.7M1071.5 927.9H1086.5M1071.5 909.7H1086.5" stroke="#000" stroke-width="3" fill="none"/>
<path d="M1135.7 856.5V846.1M1128.2 856.5H1143.2M1128.2 846.1H1143.2" stroke="#000" stroke-width="3" fill="none"/>
<path d="M1249.0 864.3V856.5M1241.5 864.3H1256.5M1241.5 856.5H1256.5" stroke="#000" stroke-width="3" fill="none"/>
<path d="M1050.7 1009.8V1007.2M1043.2 1009.8H1058.2M1043.2 1007.2H1058.2" stroke="#000" stroke-width="3" fill="none"/>
<path d="M1079.0 1004.6V999.4M1071.5 1004.6H1086.5M1071.5 999.4H1086.5" stroke="#000" stroke-width="3" fill="none"/>
<path d="M1135.7 983.8V981.2M1128.2 983.8H1143.2M1128.2 981.2H1143.2" stroke="#000" stroke-width="3" fill="none"/>
<path d="M1249.0 986.9V981.7M1241.5 986.9H1256.5M1241.5 981.7H1256.5" stroke="#000" stroke-width="3" fill="none"/>
<polyline points="1022.4,1009.8 1050.7,918.8 1079.0,857.8 1135.7,831.8 1249.0,826.6" stroke="#000000" stroke-width="5" fill="none" stroke-linejoin="round"/>
<polyline points="1022.4,1009.8 1050.7,921.4 1079.0,860.4 1135.7,834.4 1249.0,851.3" stroke="#A50B2E" stroke-width="5" fill="none" stroke-linejoin="round"/>
<polyline points="1022.4,1009.8 1050.7,931.8 1079.0,865.6 1135.7,838.3 1249.0,857.8" stroke="#7DC147" stroke-width="5" fill="none" stroke-linejoin="round"/>
<polyline points="1022.4,1009.8 1050.7,992.9 1079.0,918.8 1135.7,851.3 1249.0,860.4" stroke="#0CAFDC" stroke-width="5" fill="none" stroke-linejoin="round"/>
<polyline points="1022.4,1009.8 1050.7,1008.5 1079.0,1002.0 1135.7,982.5 1249.0,984.3" stroke="#6A0A8C" stroke-width="5" fill="none" stroke-linejoin="round"/>
<path d="M1022.4 790.6V1011.8M1020.4 1009.8H1262.0" stroke="#000" stroke-width="4" fill="none"/>
<path d="M1013.9 1009.8H1022.4" stroke="#000" stroke-width="4"/>
<text x="989.4" y="1020.3" text-anchor="end" font-size="31">0.0</text>
<path d="M1013.9 957.8H1022.4" stroke="#000" stroke-width="4"/>
<text x="989.4" y="968.3" text-anchor="end" font-size="31">0.2</text>
<path d="M1013.9 905.8H1022.4" stroke="#000" stroke-width="4"/>
<text x="989.4" y="916.3" text-anchor="end" font-size="31">0.4</text>
<path d="M1013.9 853.9H1022.4" stroke="#000" stroke-width="4"/>
<text x="989.4" y="864.4" text-anchor="end" font-size="31">0.6</text>
<path d="M1013.9 801.9H1022.4" stroke="#000" stroke-width="4"/>
<text x="989.4" y="812.4" text-anchor="end" font-size="31">0.8</text>
<path d="M1022.4 1009.8V1018.3" stroke="#000" stroke-width="4"/>
<text x="1022.4" y="1055.8" text-anchor="middle" font-size="31">0</text>
<path d="M1079.0 1009.8V1018.3" stroke="#000" stroke-width="4"/>
<text x="1079.0" y="1055.8" text-anchor="middle" font-size="31">2</text>
<path d="M1135.7 1009.8V1018.3" stroke="#000" stroke-width="4"/>
<text x="1135.7" y="1055.8" text-anchor="middle" font-size="31">4</text>
<path d="M1192.3 1009.8V1018.3" stroke="#000" stroke-width="4"/>
<text x="1192.3" y="1055.8" text-anchor="middle" font-size="31">6</text>
<path d="M1249.0 1009.8V1018.3" stroke="#000" stroke-width="4"/>
<text x="1249.0" y="1055.8" text-anchor="middle" font-size="31">8</text>
<text x="1133" y="783" text-anchor="middle" font-size="35" font-weight="bold">6-OOH-SQ</text>
<path d="M309.8 1303.1V1296.8M302.3 1303.1H317.3M302.3 1296.8H317.3" stroke="#000" stroke-width="3" fill="none"/>
<path d="M338.3 1254.8V1246.4M330.8 1254.8H345.8M330.8 1246.4H345.8" stroke="#000" stroke-width="3" fill="none"/>
<path d="M395.4 1195.9V1179.1M387.9 1195.9H402.9M387.9 1179.1H402.9" stroke="#000" stroke-width="3" fill="none"/>
<path d="M509.4 1143.4V1139.2M501.9 1143.4H516.9M501.9 1139.2H516.9" stroke="#000" stroke-width="3" fill="none"/>
<path d="M309.8 1303.1V1298.9M302.3 1303.1H317.3M302.3 1298.9H317.3" stroke="#000" stroke-width="3" fill="none"/>
<path d="M338.3 1255.8V1247.4M330.8 1255.8H345.8M330.8 1247.4H345.8" stroke="#000" stroke-width="3" fill="none"/>
<path d="M395.4 1204.3V1195.9M387.9 1204.3H402.9M387.9 1195.9H402.9" stroke="#000" stroke-width="3" fill="none"/>
<path d="M509.4 1191.7V1172.8M501.9 1191.7H516.9M501.9 1172.8H516.9" stroke="#000" stroke-width="3" fill="none"/>
<path d="M309.8 1310.4V1299.9M302.3 1310.4H317.3M302.3 1299.9H317.3" stroke="#000" stroke-width="3" fill="none"/>
<path d="M338.3 1261.1V1248.5M330.8 1261.1H345.8M330.8 1248.5H345.8" stroke="#000" stroke-width="3" fill="none"/>
<path d="M395.4 1211.7V1197.0M387.9 1211.7H402.9M387.9 1197.0H402.9" stroke="#000" stroke-width="3" fill="none"/>
<path d="M509.4 1191.7V1179.1M501.9 1191.7H516.9M501.9 1179.1H516.9" stroke="#000" stroke-width="3" fill="none"/>
<path d="M309.8 1331.4V1325.1M302.3 1331.4H317.3M302.3 1325.1H317.3" stroke="#000" stroke-width="3" fill="none"/>
<path d="M338.3 1295.7V1285.2M330.8 1295.7H345.8M330.8 1285.2H345.8" stroke="#000" stroke-width="3" fill="none"/>
<path d="M395.4 1231.7V1223.2M387.9 1231.7H402.9M387.9 1223.2H402.9" stroke="#000" stroke-width="3" fill="none"/>
<path d="M509.4 1203.3V1190.7M501.9 1203.3H516.9M501.9 1190.7H516.9" stroke="#000" stroke-width="3" fill="none"/>
<path d="M309.8 1333.6V1331.4M302.3 1333.6H317.3M302.3 1331.4H317.3" stroke="#000" stroke-width="3" fill="none"/>
<path d="M338.3 1331.4V1329.3M330.8 1331.4H345.8M330.8 1329.3H345.8" stroke="#000" stroke-width="3" fill="none"/>
<path d="M395.4 1322.4V1320.3M387.9 1322.4H402.9M387.9 1320.3H402.9" stroke="#000" stroke-width="3" fill="none"/>
<path d="M509.4 1315.5V1311.3M501.9 1315.5H516.9M501.9 1311.3H516.9" stroke="#000" stroke-width="3" fill="none"/>
<polyline points="281.3,1332.5 309.8,1299.9 338.3,1250.6 395.4,1187.5 509.4,1141.3" stroke="#000000" stroke-width="5" fill="none" stroke-linejoin="round"/>
<polyline points="281.3,1332.5 309.8,1301.0 338.3,1251.6 395.4,1200.1 509.4,1182.3" stroke="#A50B2E" stroke-width="5" fill="none" stroke-linejoin="round"/>
<polyline points="281.3,1332.5 309.8,1305.2 338.3,1254.8 395.4,1204.3 509.4,1185.4" stroke="#7DC147" stroke-width="5" fill="none" stroke-linejoin="round"/>
<polyline points="281.3,1332.5 309.8,1328.3 338.3,1290.5 395.4,1227.5 509.4,1197.0" stroke="#0CAFDC" stroke-width="5" fill="none" stroke-linejoin="round"/>
<polyline points="281.3,1332.5 309.8,1332.5 338.3,1330.4 395.4,1321.4 509.4,1313.4" stroke="#6A0A8C" stroke-width="5" fill="none" stroke-linejoin="round"/>
<path d="M281.3 1112.8V1334.5M279.3 1332.5H522.4" stroke="#000" stroke-width="4" fill="none"/>
<path d="M272.8 1332.5H281.3" stroke="#000" stroke-width="4"/>
<text x="248.3" y="1343.0" text-anchor="end" font-size="31">0.0</text>
<path d="M272.8 1290.5H281.3" stroke="#000" stroke-width="4"/>
<text x="248.3" y="1301.0" text-anchor="end" font-size="31">0.2</text>
<path d="M272.8 1248.5H281.3" stroke="#000" stroke-width="4"/>
<text x="248.3" y="1259.0" text-anchor="end" font-size="31">0.4</text>
<path d="M272.8 1206.4H281.3" stroke="#000" stroke-width="4"/>
<text x="248.3" y="1216.9" text-anchor="end" font-size="31">0.6</text>
<path d="M272.8 1164.4H281.3" stroke="#000" stroke-width="4"/>
<text x="248.3" y="1174.9" text-anchor="end" font-size="31">0.8</text>
<path d="M272.8 1122.4H281.3" stroke="#000" stroke-width="4"/>
<text x="248.3" y="1132.9" text-anchor="end" font-size="31">1.0</text>
<path d="M281.3 1332.5V1341.0" stroke="#000" stroke-width="4"/>
<text x="281.3" y="1378.5" text-anchor="middle" font-size="31">0</text>
<path d="M338.3 1332.5V1341.0" stroke="#000" stroke-width="4"/>
<text x="338.3" y="1378.5" text-anchor="middle" font-size="31">2</text>
<path d="M395.4 1332.5V1341.0" stroke="#000" stroke-width="4"/>
<text x="395.4" y="1378.5" text-anchor="middle" font-size="31">4</text>
<path d="M452.4 1332.5V1341.0" stroke="#000" stroke-width="4"/>
<text x="452.4" y="1378.5" text-anchor="middle" font-size="31">6</text>
<path d="M509.4 1332.5V1341.0" stroke="#000" stroke-width="4"/>
<text x="509.4" y="1378.5" text-anchor="middle" font-size="31">8</text>
<text x="393" y="1106" text-anchor="middle" font-size="35" font-weight="bold">7-OOH-SQ</text>
<path d="M680.9 1249.4V1238.9M673.4 1249.4H688.4M673.4 1238.9H688.4" stroke="#000" stroke-width="3" fill="none"/>
<path d="M709.2 1193.3V1182.8M701.7 1193.3H716.7M701.7 1182.8H716.7" stroke="#000" stroke-width="3" fill="none"/>
<path d="M766.0 1181.5V1163.2M758.5 1181.5H773.5M758.5 1163.2H773.5" stroke="#000" stroke-width="3" fill="none"/>
<path d="M879.4 1165.9V1155.4M871.9 1165.9H886.9M871.9 1155.4H886.9" stroke="#000" stroke-width="3" fill="none"/>
<path d="M680.9 1252.0V1241.5M673.4 1252.0H688.4M673.4 1241.5H688.4" stroke="#000" stroke-width="3" fill="none"/>
<path d="M709.2 1192.0V1186.7M701.7 1192.0H716.7M701.7 1186.7H716.7" stroke="#000" stroke-width="3" fill="none"/>
<path d="M766.0 1181.5V1163.2M758.5 1181.5H773.5M758.5 1163.2H773.5" stroke="#000" stroke-width="3" fill="none"/>
<path d="M879.4 1207.6V1186.7M871.9 1207.6H886.9M871.9 1186.7H886.9" stroke="#000" stroke-width="3" fill="none"/>
<path d="M680.9 1267.7V1246.8M673.4 1267.7H688.4M673.4 1246.8H688.4" stroke="#000" stroke-width="3" fill="none"/>
<path d="M709.2 1199.8V1186.7M701.7 1199.8H716.7M701.7 1186.7H716.7" stroke="#000" stroke-width="3" fill="none"/>
<path d="M766.0 1189.3V1163.2M758.5 1189.3H773.5M758.5 1163.2H773.5" stroke="#000" stroke-width="3" fill="none"/>
<path d="M879.4 1208.9V1185.4M871.9 1208.9H886.9M871.9 1185.4H886.9" stroke="#000" stroke-width="3" fill="none"/>
<path d="M680.9 1318.0V1311.2M673.4 1318.0H688.4M673.4 1311.2H688.4" stroke="#000" stroke-width="3" fill="none"/>
<path d="M709.2 1249.9V1235.8M701.7 1249.9H716.7M701.7 1235.8H716.7" stroke="#000" stroke-width="3" fill="none"/>
<path d="M766.0 1192.0V1186.7M758.5 1192.0H773.5M758.5 1186.7H773.5" stroke="#000" stroke-width="3" fill="none"/>
<path d="M879.4 1203.7V1193.3M871.9 1203.7H886.9M871.9 1193.3H886.9" stroke="#000" stroke-width="3" fill="none"/>
<path d="M680.9 1332.9V1330.3M673.4 1332.9H688.4M673.4 1330.3H688.4" stroke="#000" stroke-width="3" fill="none"/>
<path d="M709.2 1329.0V1323.8M701.7 1329.0H716.7M701.7 1323.8H716.7" stroke="#000" stroke-width="3" fill="none"/>
<path d="M766.0 1308.6V1306.0M758.5 1308.6H773.5M758.5 1306.0H773.5" stroke="#000" stroke-width="3" fill="none"/>
<path d="M879.4 1313.3V1308.1M871.9 1313.3H886.9M871.9 1308.1H886.9" stroke="#000" stroke-width="3" fill="none"/>
<rect x="758.5" y="1181.5" width="15" height="10.4" fill="#000"/>
<rect x="871.9" y="1204.0" width="15" height="6.3" fill="#000"/>
<rect x="701.7" y="1186.7" width="15" height="6.8" fill="#000"/>
<polyline points="652.5,1332.9 680.9,1244.2 709.2,1188.0 766.0,1172.4 879.4,1160.6" stroke="#000000" stroke-width="5" fill="none" stroke-linejoin="round"/>
<polyline points="652.5,1332.9 680.9,1246.8 709.2,1189.3 766.0,1172.4 879.4,1197.2" stroke="#A50B2E" stroke-width="5" fill="none" stroke-linejoin="round"/>
<polyline points="652.5,1332.9 680.9,1257.2 709.2,1193.3 766.0,1176.3 879.4,1197.2" stroke="#7DC147" stroke-width="5" fill="none" stroke-linejoin="round"/>
<polyline points="652.5,1332.9 680.9,1314.6 709.2,1242.9 766.0,1189.3 879.4,1198.5" stroke="#0CAFDC" stroke-width="5" fill="none" stroke-linejoin="round"/>
<polyline points="652.5,1332.9 680.9,1331.6 709.2,1326.4 766.0,1307.3 879.4,1310.7" stroke="#6A0A8C" stroke-width="5" fill="none" stroke-linejoin="round"/>
<path d="M652.5 1112.8V1334.9M650.5 1332.9H892.4" stroke="#000" stroke-width="4" fill="none"/>
<path d="M644.0 1332.9H652.5" stroke="#000" stroke-width="4"/>
<text x="619.5" y="1343.4" text-anchor="end" font-size="31">0.0</text>
<path d="M644.0 1280.7H652.5" stroke="#000" stroke-width="4"/>
<text x="619.5" y="1291.2" text-anchor="end" font-size="31">0.2</text>
<path d="M644.0 1228.5H652.5" stroke="#000" stroke-width="4"/>
<text x="619.5" y="1239.0" text-anchor="end" font-size="31">0.4</text>
<path d="M644.0 1176.3H652.5" stroke="#000" stroke-width="4"/>
<text x="619.5" y="1186.8" text-anchor="end" font-size="31">0.6</text>
<path d="M644.0 1124.1H652.5" stroke="#000" stroke-width="4"/>
<text x="619.5" y="1134.6" text-anchor="end" font-size="31">0.8</text>
<path d="M652.5 1332.9V1341.4" stroke="#000" stroke-width="4"/>
<text x="652.5" y="1378.9" text-anchor="middle" font-size="31">0</text>
<path d="M709.2 1332.9V1341.4" stroke="#000" stroke-width="4"/>
<text x="709.2" y="1378.9" text-anchor="middle" font-size="31">2</text>
<path d="M766.0 1332.9V1341.4" stroke="#000" stroke-width="4"/>
<text x="766.0" y="1378.9" text-anchor="middle" font-size="31">4</text>
<path d="M822.7 1332.9V1341.4" stroke="#000" stroke-width="4"/>
<text x="822.7" y="1378.9" text-anchor="middle" font-size="31">6</text>
<path d="M879.4 1332.9V1341.4" stroke="#000" stroke-width="4"/>
<text x="879.4" y="1378.9" text-anchor="middle" font-size="31">8</text>
<text x="772" y="1106" text-anchor="middle" font-size="35" font-weight="bold">10-OOH-SQ</text>
<path d="M1050.7 1297.0V1286.7M1043.2 1297.0H1058.2M1043.2 1286.7H1058.2" stroke="#000" stroke-width="3" fill="none"/>
<path d="M1079.0 1247.4V1237.1M1071.5 1247.4H1086.5M1071.5 1237.1H1086.5" stroke="#000" stroke-width="3" fill="none"/>
<path d="M1135.7 1191.9V1179.6M1128.2 1191.9H1143.2M1128.2 1179.6H1143.2" stroke="#000" stroke-width="3" fill="none"/>
<path d="M1249.0 1149.2V1143.7M1241.5 1149.2H1256.5M1241.5 1143.7H1256.5" stroke="#000" stroke-width="3" fill="none"/>
<path d="M1050.7 1297.0V1290.1M1043.2 1297.0H1058.2M1043.2 1290.1H1058.2" stroke="#000" stroke-width="3" fill="none"/>
<path d="M1079.0 1247.4V1240.5M1071.5 1247.4H1086.5M1071.5 1240.5H1086.5" stroke="#000" stroke-width="3" fill="none"/>
<path d="M1135.7 1199.5V1192.6M1128.2 1199.5H1143.2M1128.2 1192.6H1143.2" stroke="#000" stroke-width="3" fill="none"/>
<path d="M1249.0 1189.2V1182.3M1241.5 1189.2H1256.5M1241.5 1182.3H1256.5" stroke="#000" stroke-width="3" fill="none"/>
<path d="M1050.7 1302.1V1291.8M1043.2 1302.1H1058.2M1043.2 1291.8H1058.2" stroke="#000" stroke-width="3" fill="none"/>
<path d="M1079.0 1254.2V1243.9M1071.5 1254.2H1086.5M1071.5 1243.9H1086.5" stroke="#000" stroke-width="3" fill="none"/>
<path d="M1135.7 1206.3V1196.0M1128.2 1206.3H1143.2M1128.2 1196.0H1143.2" stroke="#000" stroke-width="3" fill="none"/>
<path d="M1249.0 1192.6V1182.3M1241.5 1192.6H1256.5M1241.5 1182.3H1256.5" stroke="#000" stroke-width="3" fill="none"/>
<path d="M1050.7 1326.7V1318.5M1043.2 1326.7H1058.2M1043.2 1318.5H1058.2" stroke="#000" stroke-width="3" fill="none"/>
<path d="M1079.0 1289.1V1277.5M1071.5 1289.1H1086.5M1071.5 1277.5H1086.5" stroke="#000" stroke-width="3" fill="none"/>
<path d="M1135.7 1224.4V1212.1M1128.2 1224.4H1143.2M1128.2 1212.1H1143.2" stroke="#000" stroke-width="3" fill="none"/>
<path d="M1249.0 1201.2V1187.5M1241.5 1201.2H1256.5M1241.5 1187.5H1256.5" stroke="#000" stroke-width="3" fill="none"/>
<path d="M1050.7 1332.9V1329.5M1043.2 1332.9H1058.2M1043.2 1329.5H1058.2" stroke="#000" stroke-width="3" fill="none"/>
<path d="M1079.0 1328.5V1323.7M1071.5 1328.5H1086.5M1071.5 1323.7H1086.5" stroke="#000" stroke-width="3" fill="none"/>
<path d="M1135.7 1316.1V1312.7M1128.2 1316.1H1143.2M1128.2 1312.7H1143.2" stroke="#000" stroke-width="3" fill="none"/>
<path d="M1249.0 1310.7V1307.2M1241.5 1310.7H1256.5M1241.5 1307.2H1256.5" stroke="#000" stroke-width="3" fill="none"/>
<polyline points="1022.4,1332.9 1050.7,1291.8 1079.0,1242.2 1135.7,1185.8 1249.0,1146.4" stroke="#000000" stroke-width="5" fill="none" stroke-linejoin="round"/>
<polyline points="1022.4,1332.9 1050.7,1293.6 1079.0,1243.9 1135.7,1196.0 1249.0,1185.8" stroke="#A50B2E" stroke-width="5" fill="none" stroke-linejoin="round"/>
<polyline points="1022.4,1332.9 1050.7,1297.0 1079.0,1249.1 1135.7,1201.2 1249.0,1187.5" stroke="#7DC147" stroke-width="5" fill="none" stroke-linejoin="round"/>
<polyline points="1022.4,1332.9 1050.7,1322.6 1079.0,1283.3 1135.7,1218.3 1249.0,1194.3" stroke="#0CAFDC" stroke-width="5" fill="none" stroke-linejoin="round"/>
<polyline points="1022.4,1332.9 1050.7,1331.2 1079.0,1326.1 1135.7,1314.4 1249.0,1308.9" stroke="#6A0A8C" stroke-width="5" fill="none" stroke-linejoin="round"/>
<path d="M1022.4 1112.8V1334.9M1020.4 1332.9H1262.0" stroke="#000" stroke-width="4" fill="none"/>
<path d="M1013.9 1332.9H1022.4" stroke="#000" stroke-width="4"/>
<text x="989.4" y="1343.4" text-anchor="end" font-size="31">0</text>
<path d="M1013.9 1264.5H1022.4" stroke="#000" stroke-width="4"/>
<text x="989.4" y="1275.0" text-anchor="end" font-size="31">0.2</text>
<path d="M1013.9 1196.0H1022.4" stroke="#000" stroke-width="4"/>
<text x="989.4" y="1206.5" text-anchor="end" font-size="31">0.4</text>
<path d="M1013.9 1127.6H1022.4" stroke="#000" stroke-width="4"/>
<text x="989.4" y="1138.1" text-anchor="end" font-size="31">0.6</text>
<path d="M1022.4 1332.9V1341.4" stroke="#000" stroke-width="4"/>
<text x="1022.4" y="1378.9" text-anchor="middle" font-size="31">0</text>
<path d="M1079.0 1332.9V1341.4" stroke="#000" stroke-width="4"/>
<text x="1079.0" y="1378.9" text-anchor="middle" font-size="31">2</text>
<path d="M1135.7 1332.9V1341.4" stroke="#000" stroke-width="4"/>
<text x="1135.7" y="1378.9" text-anchor="middle" font-size="31">4</text>
<path d="M1192.3 1332.9V1341.4" stroke="#000" stroke-width="4"/>
<text x="1192.3" y="1378.9" text-anchor="middle" font-size="31">6</text>
<path d="M1249.0 1332.9V1341.4" stroke="#000" stroke-width="4"/>
<text x="1249.0" y="1378.9" text-anchor="middle" font-size="31">8</text>
<text x="1143" y="1106" text-anchor="middle" font-size="35" font-weight="bold">11-OOH-SQ</text>
<text x="405.6" y="680.6" text-anchor="middle" font-size="30" font-weight="bold">Time (h)</text>
<text x="775" y="680.6" text-anchor="middle" font-size="30" font-weight="bold">Time (h)</text>
<text x="1142" y="680.6" text-anchor="middle" font-size="30" font-weight="bold">Time (h)</text>
<text x="405" y="1424" text-anchor="middle" font-size="30" font-weight="bold">Time (h)</text>
<text x="775" y="1424" text-anchor="middle" font-size="30" font-weight="bold">Time (h)</text>
<text x="1144.7" y="1424" text-anchor="middle" font-size="30" font-weight="bold">Time (h)</text>
<g transform="translate(143.5,160.5) rotate(-90)"><text x="0" y="0" text-anchor="middle" font-size="30" font-weight="bold">SQOOH amount</text><text x="2.5" y="34" text-anchor="middle" font-size="30" font-weight="bold">(μg/mg SQ)</text></g>
<g transform="translate(143.5,483.5) rotate(-90)"><text x="0" y="0" text-anchor="middle" font-size="30" font-weight="bold">SQOOH amount</text><text x="4" y="34" text-anchor="middle" font-size="30" font-weight="bold">(μg/mg SQ)</text></g>
<g transform="translate(143.5,898.5) rotate(-90)"><text x="0" y="0" text-anchor="middle" font-size="30" font-weight="bold">SQOOH amount</text><text x="4.3" y="34" text-anchor="middle" font-size="30" font-weight="bold">(μg/mg SQ)</text></g>
<g transform="translate(143.5,1221) rotate(-90)"><text x="0" y="0" text-anchor="middle" font-size="30" font-weight="bold">SQOOH amount</text><text x="2.8" y="34" text-anchor="middle" font-size="30" font-weight="bold">(μg/mg SQ)</text></g>
<text x="0.5" y="41.5" font-size="40" font-weight="bold">A</text>
<text x="1.5" y="778" font-size="40" font-weight="bold">B</text>
<path d="M1306 84.5H1405" stroke="#000000" stroke-width="4.6"/>
<text x="1419" y="94.0" font-size="30.5" font-weight="bold">Control</text>
<path d="M1306 124.8H1405" stroke="#A50B2E" stroke-width="4.6"/>
<text x="1419" y="134.3" font-size="30.5" font-weight="bold">β-Car 0.01 nmol</text>
<path d="M1306 165.2H1405" stroke="#7DC147" stroke-width="4.6"/>
<text x="1419" y="174.7" font-size="30.5" font-weight="bold">β-Car 0.1 nmol</text>
<path d="M1306 205.6H1405" stroke="#0CAFDC" stroke-width="4.6"/>
<text x="1419" y="215.1" font-size="30.5" font-weight="bold">β-Car 1 nmol</text>
<path d="M1306 245.9H1405" stroke="#6A0A8C" stroke-width="4.6"/>
<text x="1419" y="255.4" font-size="30.5" font-weight="bold">β-Car 10 nmol</text>
<path d="M1303 814.5H1402.5" stroke="#000000" stroke-width="4.6"/>
<text x="1416" y="824.0" font-size="30.5" font-weight="bold">Control</text>
<path d="M1303 854.9H1402.5" stroke="#A50B2E" stroke-width="4.6"/>
<text x="1416" y="864.4" font-size="30.5" font-weight="bold">α-Toc 0.01 nmol</text>
<path d="M1303 895.2H1402.5" stroke="#7DC147" stroke-width="4.6"/>
<text x="1416" y="904.7" font-size="30.5" font-weight="bold">α-Toc 0.1 nmol</text>
<path d="M1303 935.5H1402.5" stroke="#0CAFDC" stroke-width="4.6"/>
<text x="1416" y="945.0" font-size="30.5" font-weight="bold">α-Toc 1 nmol</text>
<path d="M1303 975.9H1402.5" stroke="#6A0A8C" stroke-width="4.6"/>
<text x="1416" y="985.4" font-size="30.5" font-weight="bold">α-Toc 10 nmol</text>
</svg></body></html>
